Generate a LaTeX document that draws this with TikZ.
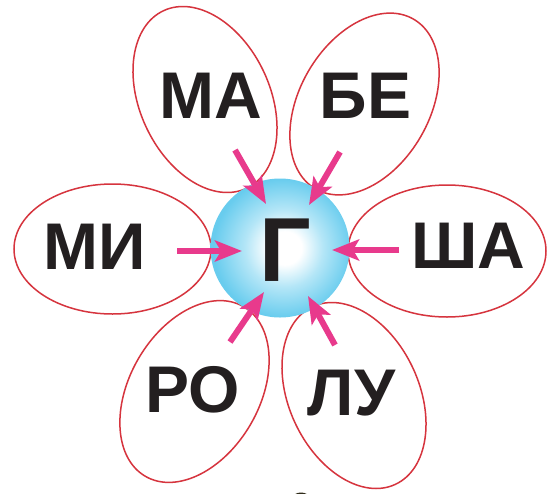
\documentclass[tikz,border=0pt]{standalone}
\usepackage{fontspec}
\setmainfont{Liberation Sans}
\usetikzlibrary{shapes.geometric,arrows.meta}
\definecolor{petalred}{RGB}{214,52,62}
\definecolor{arrowpink}{RGB}{232,58,140}
\definecolor{ballblue}{RGB}{104,204,238}
\definecolor{ballmid}{RGB}{180,230,247}
\definecolor{inkblack}{RGB}{35,31,32}
\pgfdeclareradialshading{ballshade}{\pgfpoint{2bp}{0bp}}{color(0bp)=(white); color(6bp)=(white); color(14bp)=(ballmid); color(25bp)=(ballblue); color(50bp)=(ballblue)}
\tikzset{
  petal/.style={ellipse, draw=petalred, line width=1.5pt, inner sep=0pt, outer sep=0pt,
    minimum width=196pt, minimum height=130pt},
  syll/.style={font=\fontsize{66}{66}\selectfont\bfseries, text=inkblack, inner sep=0pt},
  centerletter/.style={font=\fontsize{91}{91}\selectfont\bfseries, text=inkblack, inner sep=0pt},
  ball/.style={circle, shading=ballshade, minimum size=139pt, inner sep=0pt, outer sep=0pt},
  pointer/.style={draw=arrowpink, line width=6pt, -{Stealth[length=27pt,width=21pt,inset=6pt]}}
}
\begin{document}
\begin{tikzpicture}[x=1pt,y=-1pt]
\useasboundingbox (0,0) rectangle (551,493);
\fill[white] (0,0) rectangle (551,493);
% petals
\node[petal, rotate=115] (pMA) at (205,99.5) {};
\node[petal, rotate=60] (pBE) at (364.5,104) {};
\node[petal, minimum width=197pt] (pMI) at (112.5,249) {};
\node[petal, minimum width=198pt, minimum height=132pt] (pSHA) at (447,251) {};
\node[petal, rotate=60] (pRO) at (194.5,391.5) {};
\node[petal, rotate=115] (pLU) at (354,395.5) {};
% centre ball
\node[ball] (ball) at (280,248) {};
% arrows
\coordinate (tMA) at (235,150);  \coordinate (hMA) at (266,204);
\coordinate (tBE) at (340,152);  \coordinate (hBE) at (309,205);
\coordinate (tMI) at (177,251);  \coordinate (hMI) at (242,251);
\coordinate (tSHA) at (399,250); \coordinate (hSHA) at (332,250);
\coordinate (tRO) at (230,342);  \coordinate (hRO) at (264,292);
\coordinate (tLU) at (335,345);  \coordinate (hLU) at (308,296);
\draw[pointer] (tMA) -- (hMA);
\draw[pointer] (tBE) -- (hBE);
\draw[pointer] (tMI) -- (hMI);
\draw[pointer] (tSHA) -- (hSHA);
\draw[pointer] (tRO) -- (hRO);
\draw[pointer] (tLU) -- (hLU);
% texts
\node[syll] (MA) at (210.5,96) {МА};
\node[syll] (BE) at (365.5,96) {БЕ};
\node[syll] (MI) at (95,246.5) {МИ};
\node[syll] (SHA) at (468,245.5) {ША};
\node[syll] (RO) at (192.5,390) {РО};
\node[syll] (LU) at (351.5,393) {ЛУ};
\node[centerletter] (G) at (285.5,250) {Г};
% cropped dark shape at bottom edge
\begin{scope}
\clip (0,0) rectangle (551,493);
\fill[inkblack!85!olive] (301,497.5) ellipse (8pt and 5pt);
\end{scope}
\end{tikzpicture}
\end{document}
